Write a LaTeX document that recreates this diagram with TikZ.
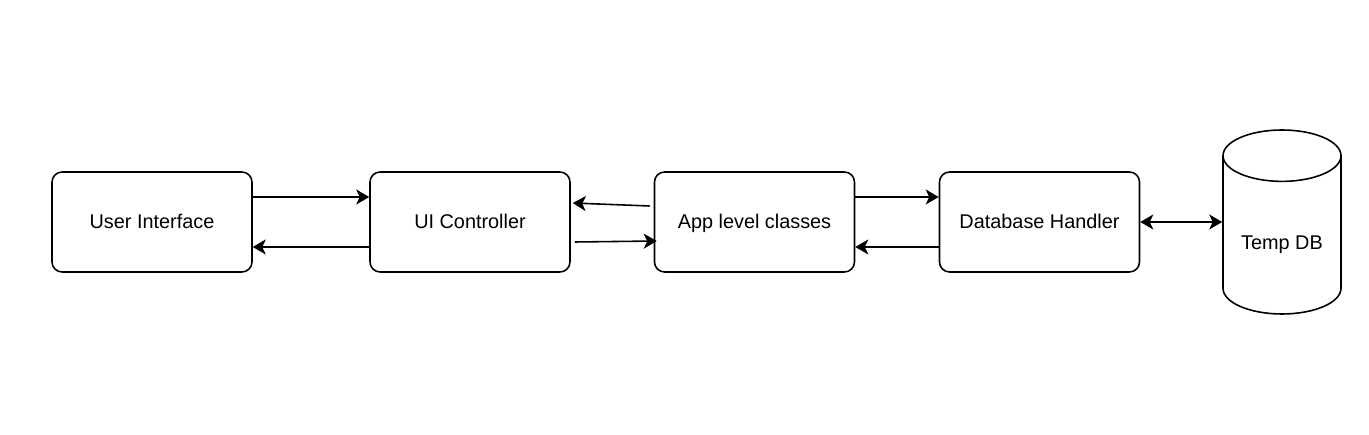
\documentclass[tikz,border=0pt]{standalone}
\usepackage{fontspec}
\setmainfont{Liberation Sans}
\usetikzlibrary{arrows.meta,shapes.geometric}
\tikzset{
  >={Stealth[length=0.26cm,width=0.3cm,inset=0.07cm]},
  block/.style={draw, rounded corners=0.2cm, minimum width=4cm, minimum height=2cm,
    line width=0.9pt, text height=0.72em, text depth=0pt,
    font=\fontsize{11.3}{13}\selectfont},
  store/.style={draw, cylinder, shape border rotate=90, aspect=0.55,
    minimum width=2.36cm, minimum height=3.68cm, line width=0.9pt,
    text height=1em, text depth=0pt,
    font=\fontsize{11.3}{13}\selectfont},
  link/.style={->, line width=0.9pt},
}
\begin{document}
\begin{tikzpicture}[x=0.02cm,y=-0.02cm]
\useasboundingbox (0,0) rectangle (1369,435);

% components
\node[block] (ui)  at (152,222)    {User Interface};
\node[block] (uic) at (470,222)    {UI Controller};
\node[block] (app) at (754.5,222)  {App level classes};
\node[block] (dbh) at (1039.5,222) {Database Handler};
\node[store, anchor=shape center] (tdb) at (1282,222) {Temp DB};

% calls
\draw[link] ([yshift=0.5cm]ui.east) -- ([yshift=0.5cm]uic.west);
\draw[link] ([yshift=-0.5cm]uic.west) -- ([yshift=-0.5cm]ui.east);
\draw[link] ([xshift=-0.08cm,yshift=0.32cm]app.west) -- ([xshift=0.04cm,yshift=0.38cm]uic.east);
\draw[link] ([xshift=0.08cm,yshift=-0.4cm]uic.east) -- ([xshift=0.06cm,yshift=-0.38cm]app.west);
\draw[link] ([yshift=0.5cm]app.east) -- ([yshift=0.5cm]dbh.west);
\draw[link] ([yshift=-0.5cm]dbh.west) -- ([yshift=-0.5cm]app.east);
\draw[link,<->] (dbh.east) -- (dbh.east -| tdb.west);

\end{tikzpicture}
\end{document}
